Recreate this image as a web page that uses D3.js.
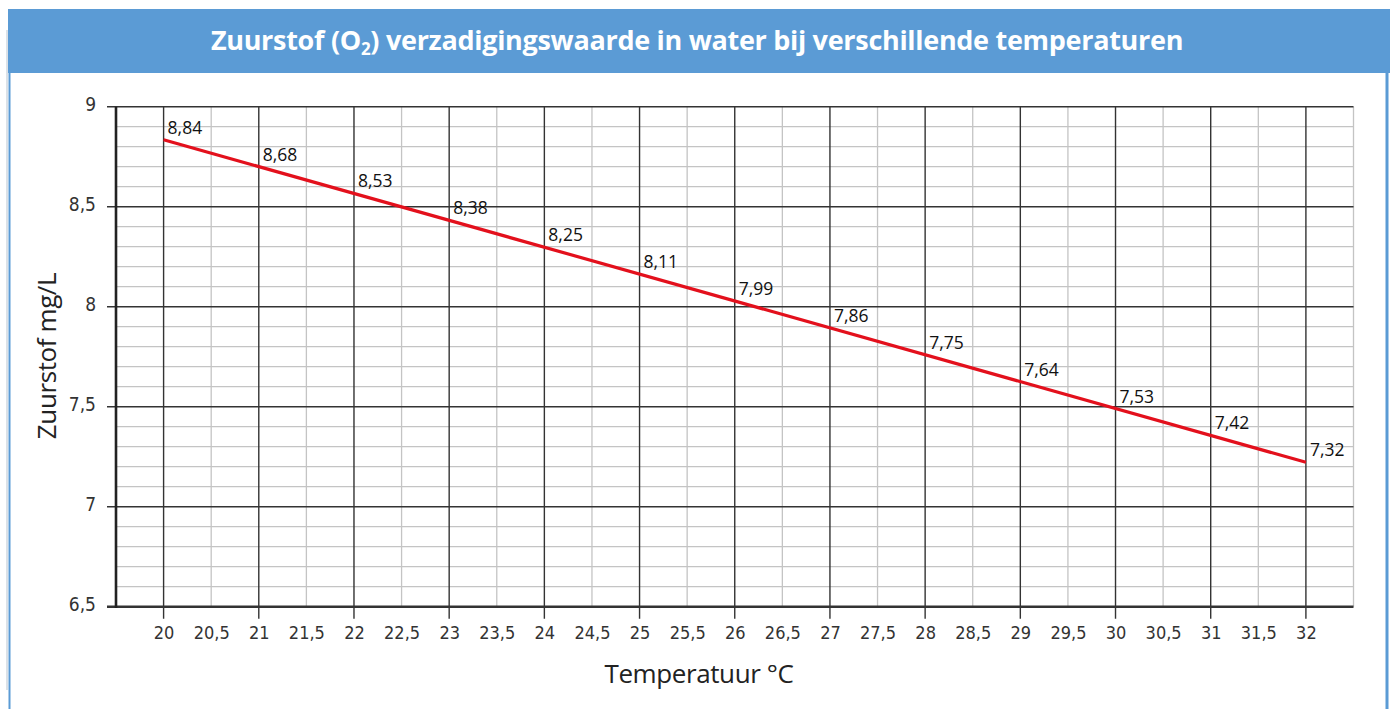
<!DOCTYPE html>
<html>
<head>
<meta charset="utf-8">
<script src="https://cdn.jsdelivr.net/npm/d3@7/dist/d3.min.js"></script>
<style>
  html, body { margin: 0; padding: 0; background: #fff; }
  svg { display: block; }
</style>
</head>
<body>
<svg id="chart" width="1392" height="709"></svg>
<script>
// ---- data ----
const temperatures = [20, 21, 22, 23, 24, 25, 26, 27, 28, 29, 30, 31, 32];
const oxygenValues = [8.84, 8.68, 8.53, 8.38, 8.25, 8.11, 7.99, 7.86, 7.75, 7.64, 7.53, 7.42, 7.32];
// drawn red trend line (start and end)
const lineTemps = [20, 32];
const lineValues = [8.835, 7.222];
const xTickValues = [20, 20.5, 21, 21.5, 22, 22.5, 23, 23.5, 24, 24.5, 25, 25.5, 26, 26.5, 27, 27.5, 28, 28.5, 29, 29.5, 30, 30.5, 31, 31.5, 32];
const yTickValues = [6.5, 7, 7.5, 8, 8.5, 9];
const titleMain = "Zuurstof (O";
const titleSub = "2";
const titleRest = ") verzadigingswaarde in water bij verschillende temperaturen";
const xLabel = "Temperatuur °C";
const yLabel = "Zuurstof mg/L";

// ---- layout ----
const svg = d3.select("#chart");
const W = 1392, H = 709;
const plot = { left: 116, right: 1353.5, top: 106.7, bottom: 606.7 };
const blue = "#5b9bd5";
const fmt = d => String(d).replace(".", ",");

const x = d3.scaleLinear().domain([19.5, 32.5]).range([plot.left, plot.right]);
const y = d3.scaleLinear().domain([6.5, 9]).range([plot.bottom, plot.top]);

// frame
svg.append("line").attr("x1", 7).attr("x2", 7).attr("y1", 30).attr("y2", 690)
  .attr("stroke", "#b8c4d0").attr("stroke-width", 1);
svg.append("line").attr("x1", 9.5).attr("x2", 9.5).attr("y1", 30).attr("y2", H)
  .attr("stroke", blue).attr("stroke-width", 2);
svg.append("line").attr("x1", 1387).attr("x2", 1387).attr("y1", 30).attr("y2", H)
  .attr("stroke", blue).attr("stroke-width", 3);
svg.append("rect").attr("x", 8).attr("y", 9).attr("width", 1382).attr("height", 64).attr("fill", blue);

// title
const title = svg.append("text")
  .attr("x", 697).attr("y", 50)
  .attr("text-anchor", "middle")
  .attr("fill", "#fff")
  .attr("font-family", "'Open Sans', 'Noto Sans', sans-serif")
  .attr("font-weight", "bold")
  .attr("font-size", 27)
  .attr("letter-spacing", -0.3);
title.append("tspan").text(titleMain);
title.append("tspan").attr("font-size", 17).attr("dy", 5).text(titleSub);
title.append("tspan").attr("dy", -5).text(titleRest);

// grid - minor horizontal (every 0.1)
const minorY = d3.range(65, 91).map(v => v / 10).filter(v => Math.round(v * 10) % 5 !== 0);
svg.append("g").selectAll("line").data(minorY).join("line")
  .attr("x1", plot.left).attr("x2", plot.right)
  .attr("y1", d => y(d)).attr("y2", d => y(d))
  .attr("stroke", "#c4c4c4").attr("stroke-width", 1.3);

// grid - minor vertical (half steps)
const minorX = [20.5, 21.5, 22.5, 23.5, 24.5, 25.5, 26.5, 27.5, 28.5, 29.5, 30.5, 31.5, 32.5];
svg.append("g").selectAll("line").data(minorX).join("line")
  .attr("x1", d => x(d)).attr("x2", d => x(d))
  .attr("y1", plot.top).attr("y2", plot.bottom)
  .attr("stroke", "#c4c4c4").attr("stroke-width", 1.3);

// grid - major vertical (integers) with ticks below
svg.append("g").selectAll("line").data(temperatures).join("line")
  .attr("x1", d => x(d)).attr("x2", d => x(d))
  .attr("y1", plot.top).attr("y2", plot.bottom + 12)
  .attr("stroke", "#333").attr("stroke-width", 1.4);

// grid - major horizontal with ticks left
svg.append("g").selectAll("line").data(yTickValues).join("line")
  .attr("x1", plot.left - 9).attr("x2", plot.right)
  .attr("y1", d => y(d)).attr("y2", d => y(d))
  .attr("stroke", "#333").attr("stroke-width", d => d === 6.5 ? 2.6 : 1.4);

// y axis line
svg.append("line").attr("x1", plot.left).attr("x2", plot.left)
  .attr("y1", plot.top).attr("y2", plot.bottom + 1.3)
  .attr("stroke", "#222").attr("stroke-width", 2.6);

// axes labels via d3 axes
const tickFont = "'Liberation Sans Narrow', 'DejaVu Sans Condensed', 'Roboto', sans-serif";
const xAxis = svg.append("g").attr("transform", `translate(0,${plot.bottom})`)
  .call(d3.axisBottom(x).tickValues(xTickValues).tickSize(0).tickPadding(20).tickFormat(fmt));
xAxis.select(".domain").remove();
xAxis.selectAll("text").attr("font-family", tickFont).attr("font-size", 18).attr("fill", "#333");

const yAxis = svg.append("g").attr("transform", `translate(${plot.left},0)`)
  .call(d3.axisLeft(y).tickValues(yTickValues).tickSize(0).tickPadding(20).tickFormat(fmt));
yAxis.select(".domain").remove();
yAxis.selectAll("text").attr("font-family", tickFont).attr("font-size", 19).attr("fill", "#333")
  .attr("dy", "0.2em");

// red line
const lineData = lineTemps.map((t, i) => [t, lineValues[i]]);
svg.append("path").datum(lineData)
  .attr("d", d3.line().x(d => x(d[0])).y(d => y(d[1])))
  .attr("fill", "none").attr("stroke", "#e3101c").attr("stroke-width", 3.2);

// value labels along the line
const lineAt = d3.scaleLinear().domain(lineTemps).range(lineValues);
svg.append("g").selectAll("text").data(temperatures).join("text")
  .attr("x", d => x(d) + 4)
  .attr("y", d => y(lineAt(d)) - 6)
  .attr("font-family", "'Open Sans', 'Noto Sans', sans-serif")
  .attr("font-size", 17.5)
  .attr("fill", "#111")
  .text((d, i) => fmt(oxygenValues[i]));

// axis titles
svg.append("text").attr("x", 699).attr("y", 683).attr("text-anchor", "middle")
  .attr("font-family", "'Open Sans', 'Noto Sans', sans-serif").attr("font-size", 26)
  .attr("fill", "#222").attr("letter-spacing", -0.4).text(xLabel);
svg.append("text").attr("transform", "translate(56,356) rotate(-90)").attr("text-anchor", "middle")
  .attr("font-family", "'Open Sans', 'Noto Sans', sans-serif").attr("font-size", 26)
  .attr("fill", "#222").attr("letter-spacing", -0.4).text(yLabel);
</script>
</body>
</html>
